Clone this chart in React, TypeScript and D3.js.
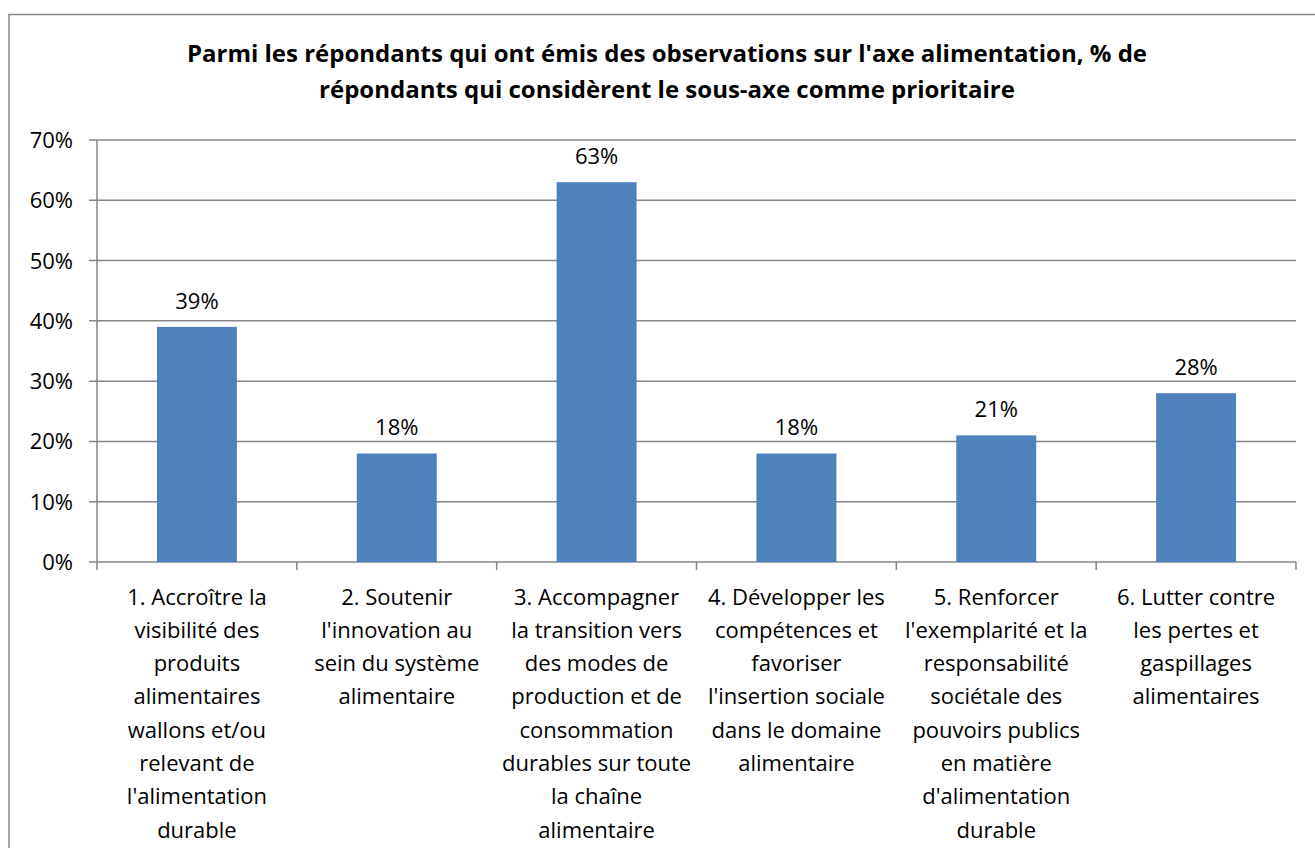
import React from "react";
import * as d3 from "d3";

const titleLines = [
  "Parmi les répondants qui ont émis des observations sur l'axe alimentation, % de",
  "répondants qui considèrent le sous-axe comme prioritaire",
];

const categories = [
  ["1. Accroître la", "visibilité des", "produits", "alimentaires", "wallons et/ou", "relevant de", "l'alimentation", "durable"],
  ["2. Soutenir", "l'innovation au", "sein du système", "alimentaire"],
  ["3. Accompagner", "la transition vers", "des modes de", "production et de", "consommation", "durables sur toute", "la chaîne", "alimentaire"],
  ["4. Développer les", "compétences et", "favoriser", "l'insertion sociale", "dans le domaine", "alimentaire"],
  ["5. Renforcer", "l'exemplarité et la", "responsabilité", "sociétale des", "pouvoirs publics", "en matière", "d'alimentation", "durable"],
  ["6. Lutter contre", "les pertes et", "gaspillages", "alimentaires"],
];

const values = [0.39, 0.18, 0.63, 0.18, 0.21, 0.28];
const yTicks = [0, 0.1, 0.2, 0.3, 0.4, 0.5, 0.6, 0.7];

const W = 1315;
const H = 848;
const plot = { left: 97, right: 1296, top: 140, bottom: 562 };
const FONT = "'Open Sans', sans-serif";
const GRID = "#868686";
const BAR = "#4F81BD";

export default function App() {
  const idx = categories.map((_, i) => String(i));
  const x = d3.scaleBand().domain(idx).range([plot.left, plot.right]).paddingInner(0.6).paddingOuter(0.3);
  const xOuter = d3.scaleBand().domain(idx).range([plot.left, plot.right]);
  const y = d3.scaleLinear().domain([0, 0.7]).range([plot.bottom, plot.top]);
  const fmt = d3.format(".0%");

  return (
    <div style={{ position: "fixed", left: 0, top: 0 }}>
      <svg width={W} height={H} style={{ display: "block", background: "#fff" }}>
        <rect x={9} y={14.5} width={W + 20} height={H + 20} fill="#fff" stroke={GRID} strokeWidth={1.5} />
        {titleLines.map((t, i) => (
          <text key={i} x={667} y={62 + i * 36} textAnchor="middle" fontFamily={FONT} fontWeight="bold" fontSize={24} fill="#000">
            {t}
          </text>
        ))}
        {yTicks.map((t) => (
          <g key={t}>
            <line x1={plot.left - 8} x2={plot.right} y1={y(t)} y2={y(t)} stroke={GRID} strokeWidth={1.5} />
            <text x={73} y={y(t) + 8} textAnchor="end" fontFamily={FONT} fontSize={22} fill="#000">
              {fmt(t)}
            </text>
          </g>
        ))}
        <line x1={plot.left} x2={plot.left} y1={plot.top} y2={plot.bottom + 8} stroke={GRID} strokeWidth={1.5} />
        {idx.map((k) => (
          <line key={k} x1={(xOuter(k) as number) + xOuter.bandwidth()} x2={(xOuter(k) as number) + xOuter.bandwidth()} y1={plot.bottom} y2={plot.bottom + 8} stroke={GRID} strokeWidth={1.5} />
        ))}
        {values.map((v, i) => (
          <g key={i}>
            <rect x={x(String(i))} y={y(v)} width={x.bandwidth()} height={plot.bottom - y(v)} fill={BAR} />
            <text x={(x(String(i)) as number) + x.bandwidth() / 2} y={y(v) - 18} textAnchor="middle" fontFamily={FONT} fontSize={22} fill="#000">
              {fmt(v)}
            </text>
          </g>
        ))}
        {categories.map((lines, i) => (
          <text key={i} fontFamily={FONT} fontSize={22} fill="#000" textAnchor="middle">
            {lines.map((l, j) => (
              <tspan key={j} x={(xOuter(String(i)) as number) + xOuter.bandwidth() / 2} y={604.5 + j * 33.3}>
                {l}
              </tspan>
            ))}
          </text>
        ))}
      </svg>
    </div>
  );
}
